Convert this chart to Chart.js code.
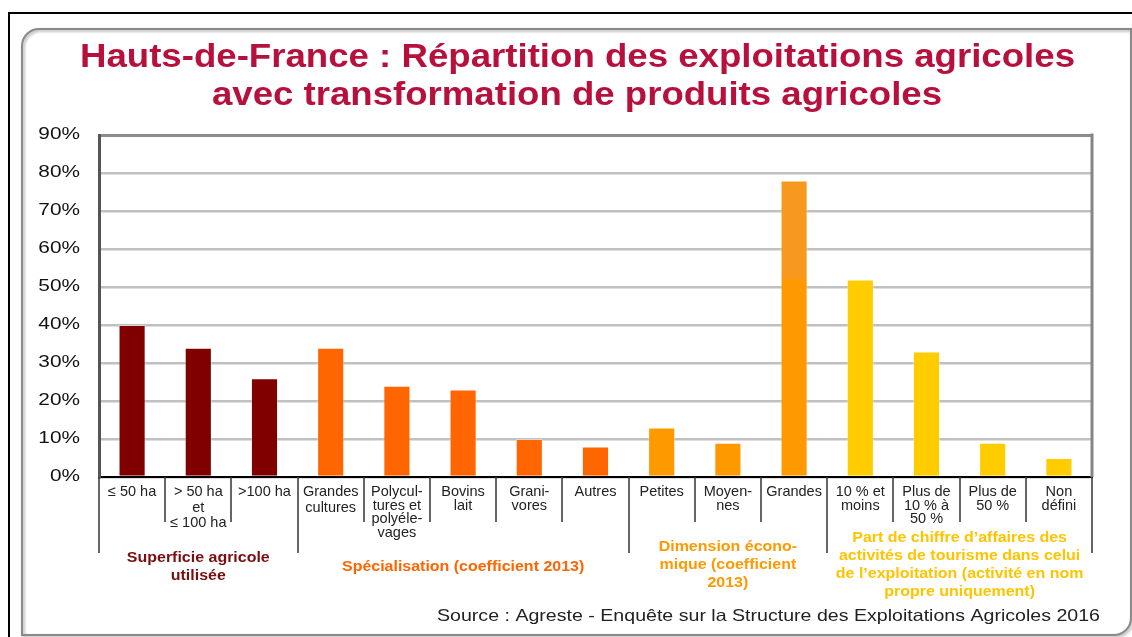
<!DOCTYPE html>
<html>
<head>
<meta charset="utf-8">
<script src="https://cdn.jsdelivr.net/npm/chart.js@4.4.1/dist/chart.umd.min.js"></script>
<style>
html,body{margin:0;padding:0;background:#fff;}
canvas{display:block;}
</style>
</head>
<body>
<canvas id="c" width="1132" height="637"></canvas>
<script>
// ---------- DATA ----------
const titleLines = ['Hauts-de-France : Répartition des exploitations agricoles', 'avec transformation de produits agricoles'];
const categories = [
  ['≤ 50 ha'],
  ['> 50 ha', 'et', '≤ 100 ha'],
  ['>100 ha'],
  ['Grandes', 'cultures'],
  ['Polycul-', 'tures et', 'polyéle-', 'vages'],
  ['Bovins', 'lait'],
  ['Grani-', 'vores'],
  ['Autres'],
  ['Petites'],
  ['Moyen-', 'nes'],
  ['Grandes'],
  ['10 % et', 'moins'],
  ['Plus de', '10 % à', '50 %'],
  ['Plus de', '50 %'],
  ['Non', 'défini']
];
const values = [40, 34, 26, 34, 24, 23, 10, 8, 13, 9, 78, 52, 33, 9, 5];
const groupOf = [0, 0, 0, 1, 1, 1, 1, 1, 2, 2, 2, 3, 3, 3, 3];
const groupLabels = [
  ['Superficie agricole', 'utilisée'],
  ['Spécialisation (coefficient 2013)'],
  ['Dimension écono-', 'mique (coefficient', '2013)'],
  ['Part de chiffre d’affaires des', 'activités de tourisme dans celui', 'de l’exploitation (activité en nom', 'propre uniquement)']
];
const yTickValues = [0, 10, 20, 30, 40, 50, 60, 70, 80, 90];
const yTickLabels = ['0%', '10%', '20%', '30%', '40%', '50%', '60%', '70%', '80%', '90%'];
const sourceText = 'Source : Agreste - Enquête sur la Structure des Exploitations Agricoles 2016';

// ---------- STYLE ----------
const groupColors = ['#800000', '#FF6600', '#FF9900', '#FFCC00'];
const groupTextColors = ['#7A0E0E', '#FF6600', '#FF9900', '#FFC400'];
const FONT = '"Liberation Sans", Arial, Helvetica, sans-serif';

function drawText(ctx, s, x, y, font, color, align, sx, baseline) {
  ctx.save();
  ctx.font = font;
  ctx.fillStyle = color;
  ctx.textAlign = align || 'center';
  ctx.textBaseline = baseline || 'middle';
  ctx.translate(x, y);
  ctx.scale(sx || 1, 1);
  ctx.fillText(s, 0, 0);
  ctx.restore();
}
function fitText(ctx, s, x, y, font, color, align, width, baseline) {
  ctx.save();
  ctx.font = font;
  const w = ctx.measureText(s).width;
  ctx.restore();
  drawText(ctx, s, x, y, font, color, align, width / w, baseline);
}

const decorPlugin = {
  id: 'decor',
  beforeDraw(chart) {
    const ctx = chart.ctx;
    ctx.save();
    ctx.fillStyle = '#fff';
    ctx.fillRect(0, 0, chart.width, chart.height);
    // outer black frame
    ctx.strokeStyle = '#000';
    ctx.lineWidth = 2;
    ctx.beginPath();
    ctx.moveTo(9, 637); ctx.lineTo(9, 13); ctx.lineTo(1132, 13);
    ctx.stroke();
    // inner rounded grey frame
    ctx.shadowColor = 'rgba(0,0,0,0.35)';
    ctx.shadowBlur = 3;
    ctx.shadowOffsetX = 1.5;
    ctx.shadowOffsetY = 1.5;
    ctx.strokeStyle = '#8a8a8a';
    ctx.lineWidth = 2;
    const r = 17;
    ctx.beginPath();
    ctx.moveTo(22, 635);
    ctx.lineTo(22, 29 + r);
    ctx.arcTo(22, 29, 22 + r, 29, r);
    ctx.lineTo(1131, 29);
    ctx.lineTo(1131, 635 - r);
    ctx.arcTo(1131, 635, 1131 - r, 635, r);
    ctx.closePath();
    ctx.stroke();
    ctx.restore();
  },
  afterDraw(chart) {
    const ctx = chart.ctx;
    const xs = chart.scales.x, ys = chart.scales.y;
    const area = chart.chartArea;
    // title
    const tFont = 'bold 34px ' + FONT;
    fitText(ctx, titleLines[0], 577.5, 67, tFont, '#B8103C', 'center', 995, 'alphabetic');
    fitText(ctx, titleLines[1], 577, 105, tFont, '#B8103C', 'center', 730, 'alphabetic');
    // right border of plot
    ctx.save();
    ctx.strokeStyle = '#858585';
    ctx.lineWidth = 3;
    ctx.beginPath();
    ctx.moveTo(area.right, area.top - 1.5);
    ctx.lineTo(area.right, area.bottom);
    ctx.stroke();
    ctx.restore();
    // y tick labels
    yTickValues.forEach((v, i) => {
      drawText(ctx, yTickLabels[i], 80, ys.getPixelForValue(v), '16px ' + FONT, '#111', 'right', 1.3);
    });
    // category separators
    const n = categories.length;
    const step = xs.getPixelForValue(1) - xs.getPixelForValue(0);
    ctx.save();
    ctx.strokeStyle = '#333';
    ctx.lineWidth = 1.5;
    for (let i = 0; i <= n; i++) {
      const x = Math.round(xs.getPixelForValue(i) - step / 2);
      const long = (i === 0 || i === n || groupOf[i] !== groupOf[i - 1]);
      ctx.beginPath();
      ctx.moveTo(x, area.bottom);
      ctx.lineTo(x, long ? 553 : 522);
      ctx.stroke();
    }
    ctx.restore();
    // category labels
    categories.forEach((lines, i) => {
      const cx = xs.getPixelForValue(i);
      const sp = (i === 1 || i === 3) ? 15.5 : 13.5;
      lines.forEach((s, j) => {
        drawText(ctx, s, cx, 492 + j * sp, '14.5px ' + FONT, '#222', 'center', 1);
      });
    });
    // group labels
    const gStarts = [0, 3, 8, 11, 15];
    const gTop = [558, 567, 547, 538];
    groupLabels.forEach((lines, g) => {
      const cx = (xs.getPixelForValue(gStarts[g]) + xs.getPixelForValue(gStarts[g + 1] - 1)) / 2;
      lines.forEach((s, j) => {
        drawText(ctx, s, cx, gTop[g] + j * 18, 'bold 15.5px ' + FONT, groupTextColors[g], 'center', 1.03);
      });
    });
    // source
    fitText(ctx, sourceText, 437, 621, '16.5px ' + FONT, '#222', 'left', 663, 'alphabetic');
  }
};

function barColor(ctx) {
  const i = ctx.dataIndex;
  const base = groupColors[groupOf[i]];
  const chart = ctx.chart;
  if (i === 10 && chart.chartArea && chart.scales.y) {
    const y = chart.scales.y;
    const top = y.getPixelForValue(values[i]);
    const bot = y.getPixelForValue(0);
    const split = y.getPixelForValue(values[11]);
    const t = (split - top) / (bot - top);
    const g = chart.ctx.createLinearGradient(0, top, 0, bot);
    g.addColorStop(0, '#F7991F');
    g.addColorStop(t, '#F7991F');
    g.addColorStop(t, base);
    g.addColorStop(1, base);
    return g;
  }
  return base;
}

new Chart(document.getElementById('c'), {
  type: 'bar',
  data: {
    labels: categories.map(l => l.join(' ')),
    datasets: [{
      data: values,
      backgroundColor: barColor,
      borderColor: 'rgba(255,255,255,0.35)',
      borderWidth: 1,
      borderSkipped: 'bottom',
      categoryPercentage: 1,
      barPercentage: 0.41
    }]
  },
  options: {
    responsive: false,
    devicePixelRatio: 1,
    animation: false,
    layout: { padding: { left: 99, right: 40, top: 135, bottom: 160 } },
    plugins: { legend: { display: false }, tooltip: { enabled: false }, title: { display: false } },
    scales: {
      x: {
        ticks: { display: false },
        grid: { display: false, drawTicks: false },
        border: { display: true, color: '#000', width: 2 },
        afterFit(s) { s.height = 0; }
      },
      y: {
        min: 0, max: 90,
        ticks: { display: false, stepSize: 10 },
        grid: {
          drawTicks: false,
          color: c => (c.tick && c.tick.value === 90) ? '#8c8c8c' : '#c0c0c0',
          lineWidth: c => (c.tick && c.tick.value === 90) ? 3 : 2.5
        },
        border: { display: true, color: '#555', width: 3 },
        afterFit(s) { s.width = 0; }
      }
    }
  },
  plugins: [decorPlugin]
});
</script>
</body>
</html>
